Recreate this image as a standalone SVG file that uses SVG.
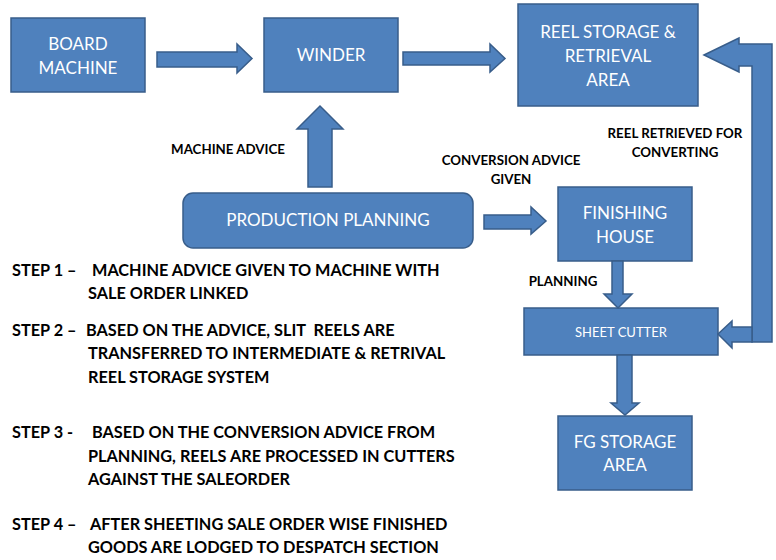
<svg xmlns="http://www.w3.org/2000/svg" width="776" height="560" viewBox="0 0 776 560">
<style>
.box{fill:#4F81BD;stroke:#385D8A;stroke-width:1.5}
.arr{fill:#4F81BD;stroke:#385D8A;stroke-width:1.5;stroke-linejoin:miter}
.t{font-family:Lato,"Open Sans",sans-serif;fill:#fff;font-size:17px;text-anchor:middle}
.l{font-family:Lato,"Open Sans",sans-serif;font-weight:bold;fill:#000;font-size:13.3px;text-anchor:middle}
.s{font-family:Lato,"Open Sans",sans-serif;font-weight:bold;fill:#000;font-size:16.3px}
</style>
<rect width="776" height="560" fill="#fff"/>
<g id="board-machine"><rect class="box" x="11" y="18" width="134" height="74"/><text class="t" x="78" y="50">BOARD</text><text class="t" x="78" y="74">MACHINE</text></g>
<g id="winder"><rect class="box" x="264" y="18" width="134" height="74"/><text class="t" x="331" y="61">WINDER</text></g>
<g id="reel-storage"><rect class="box" x="518" y="4" width="180" height="102"/><text class="t" x="608" y="38">REEL STORAGE &amp;</text><text class="t" x="608" y="62">RETRIEVAL</text><text class="t" x="608" y="86">AREA</text></g>
<g id="production-planning"><rect class="box" x="183" y="193" width="290" height="55" rx="10"/><text class="t" x="328" y="226">PRODUCTION PLANNING</text></g>
<g id="finishing-house"><rect class="box" x="558" y="187" width="134" height="74"/><text class="t" x="625" y="219">FINISHING</text><text class="t" x="625" y="243">HOUSE</text></g>
<g id="sheet-cutter"><rect class="box" x="524" y="308" width="194" height="47"/><text class="t" x="621" y="337" style="font-size:13px">SHEET CUTTER</text></g>
<g id="fg-storage"><rect class="box" x="558" y="416" width="134" height="74"/><text class="t" x="625" y="448">FG STORAGE</text><text class="t" x="625" y="471">AREA</text></g>
<g id="connectors">
<polygon class="arr" points="157,52 237,52 237,44 252,58.5 237,73 237,67 157,67"/>
<polygon class="arr" points="403,52 490,52 490,44 505,58.5 490,72 490,65 403,65"/>
<polygon class="arr" points="308,187 308,129 297,129 320,106 343,129 332,129 332,187"/>
<polygon class="arr" points="484,215 531,215 531,207 546,221 531,234 531,229 484,229"/>
<polygon class="arr" points="612,261 623,261 623,294 632,294 618,308 604,294 612,294"/>
<polygon class="arr" points="617,355 632,355 632,403 639,403 625,415 611,403 617,403"/>
<polygon class="arr" points="704,55 739,38 739,44 772,44 772,342 752,342 752,66 739,66 739,72"/>
<polygon class="arr" points="718,334 732,321 732,327 752,327 752,342 732,342 732,348"/>
</g>
<g id="labels">
<text class="l" x="228" y="154">MACHINE ADVICE</text>
<text class="l" x="511" y="165">CONVERSION ADVICE</text>
<text class="l" x="511" y="184">GIVEN</text>
<text class="l" x="675" y="138">REEL RETRIEVED FOR</text>
<text class="l" x="675" y="157">CONVERTING</text>
<text class="l" x="563" y="286">PLANNING</text>
</g>
<g id="steps">
<text class="s" x="12" y="276">STEP 1 –</text><text class="s" x="92" y="276">MACHINE ADVICE GIVEN TO MACHINE WITH</text>
<text class="s" x="88" y="299">SALE ORDER LINKED</text>
<text class="s" x="12" y="336">STEP 2 –</text><text class="s" x="86" y="336" style="white-space:pre">BASED ON THE ADVICE, SLIT  REELS ARE</text>
<text class="s" x="88" y="359">TRANSFERRED TO INTERMEDIATE &amp; RETRIVAL</text>
<text class="s" x="88" y="383">REEL STORAGE SYSTEM</text>
<text class="s" x="12" y="438">STEP 3 -</text><text class="s" x="92" y="438">BASED ON THE CONVERSION ADVICE FROM</text>
<text class="s" x="88" y="462">PLANNING, REELS ARE PROCESSED IN CUTTERS</text>
<text class="s" x="88" y="485">AGAINST THE SALEORDER</text>
<text class="s" x="12" y="530">STEP 4 –</text><text class="s" x="90" y="530">AFTER SHEETING SALE ORDER WISE FINISHED</text>
<text class="s" x="88" y="553">GOODS ARE LODGED TO DESPATCH SECTION</text>
</g>
</svg>
